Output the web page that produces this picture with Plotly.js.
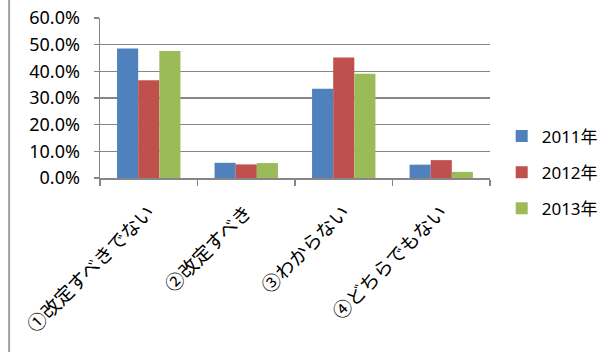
<!DOCTYPE html>
<html><head><meta charset="utf-8">
<script src="https://cdn.plot.ly/plotly-3.0.1.min.js"></script>
<style>html,body{margin:0;padding:0;background:#fff}#chart{width:603px;height:352px}</style>
</head><body><div id="chart"></div>
<script>
const categories = ["①改定すべきでない", "②改定すべき", "③わからない", "④どちらでもない"];
const seriesNames = ["2011年", "2012年", "2013年"];
const v2011 = [0.486, 0.057, 0.335, 0.050];
const v2012 = [0.367, 0.051, 0.452, 0.067];
const v2013 = [0.476, 0.056, 0.391, 0.023];
const colors = ["#4F81BD", "#C0504D", "#9BBB59"];
const yTicks = [0, 0.1, 0.2, 0.3, 0.4, 0.5, 0.6];
const yTickLabels = ["0.0%", "10.0%", "20.0%", "30.0%", "40.0%", "50.0%", "60.0%"];

const font = "Noto Sans, Noto Sans CJK JP, sans-serif";
const data = [v2011, v2012, v2013].map((v, i) => ({
  type: "bar", x: categories, y: v, name: seriesNames[i],
  marker: {color: colors[i]}, legendgroup: "g" + i
}));
const layout = {
  width: 603, height: 352,
  margin: {l: 100, r: 113, t: 18, b: 174, autoexpand: false},
  paper_bgcolor: "#fff", plot_bgcolor: "#fff",
  barmode: "group", bargap: 0.35, bargroupgap: 0,
  font: {family: font, color: "#000", size: 16},
  xaxis: {
    tickangle: -45, tickfont: {size: 19, family: "Noto Sans CJK JP, sans-serif"},
    showline: true, linecolor: "#868686", linewidth: 1.5,
    ticks: "outside", ticklen: 6, tickcolor: "#868686", tickwidth: 1.5,
    tickson: "boundaries", showgrid: false, fixedrange: true,
    ticklabelstandoff: 14, automargin: false
  },
  yaxis: {
    range: [0, 0.6], tickvals: yTicks, ticktext: yTickLabels,
    showgrid: true, gridcolor: "#868686", gridwidth: 1.5,
    showline: true, linecolor: "#868686", linewidth: 1.5,
    ticks: "outside", ticklen: 5, tickcolor: "#868686", tickwidth: 1.5,
    tickfont: {size: 18}, zeroline: false, ticklabelstandoff: 10, automargin: false
  },
  legend: {
    xref: "container", yref: "container",
    x: 0.832, xanchor: "left", y: 0.51, yanchor: "middle",
    font: {size: 17}, traceorder: "grouped", tracegroupgap: 11,
    bgcolor: "rgba(0,0,0,0)", itemwidth: 30, borderwidth: 0
  },
  shapes: [{type: "line", xref: "paper", yref: "paper",
    x0: -0.233, x1: -0.233, y0: -1.1, y1: 1.12,
    line: {color: "#A0A0A0", width: 2}}]
};
Plotly.newPlot("chart", data, layout, {displayModeBar: false, staticPlot: true});
</script></body></html>
